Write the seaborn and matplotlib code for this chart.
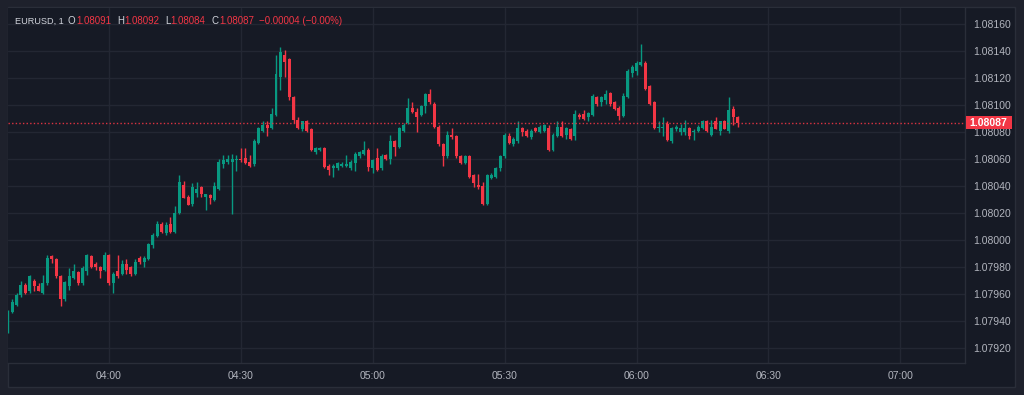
"""EURUSD 1-minute candlestick chart, dark trading-terminal style."""
import numpy as np
import pandas as pd
import seaborn as sns
from matplotlib import pyplot as plt
from matplotlib import transforms
from matplotlib.patches import Rectangle

SYMBOL = "EURUSD, 1"
START = "03:37"

open_ = [
    1.07932, 1.07947, 1.07952, 1.07959, 1.07967, 1.07962, 1.07970, 1.07966, 1.07961, 1.07968,
    1.07988, 1.07986, 1.07973, 1.07956, 1.07966, 1.07972, 1.07976, 1.07968, 1.07977, 1.07988,
    1.07982, 1.07980, 1.07978, 1.07989, 1.07968, 1.07977, 1.07975, 1.07982, 1.07980, 1.07975,
    1.07987, 1.07984, 1.07986, 1.07996, 1.08003, 1.08012, 1.08005, 1.08012, 1.08006, 1.08020,
    1.08041, 1.08032, 1.08027, 1.08035, 1.08039, 1.08032, 1.08033, 1.08030, 1.08038, 1.08056,
    1.08058, 1.08058, 1.08059, 1.08060, 1.08061, 1.08058, 1.08056, 1.08072, 1.08081, 1.08085,
    1.08083, 1.08093, 1.08121, 1.08137, 1.08134, 1.08106, 1.08089, 1.08082, 1.08088, 1.08082,
    1.08065, 1.08067, 1.08068, 1.08055, 1.08053, 1.08053, 1.08055, 1.08055, 1.08053, 1.08057,
    1.08062, 1.08064, 1.08067, 1.08053, 1.08061, 1.08053, 1.08063, 1.08060, 1.08073, 1.08069,
    1.08081, 1.08087, 1.08098, 1.08095, 1.08093, 1.08099, 1.08108, 1.08101, 1.08084, 1.08071,
    1.08062, 1.08078, 1.08077, 1.08062, 1.08057, 1.08062, 1.08048, 1.08041, 1.08040, 1.08027,
    1.08046, 1.08047, 1.08053, 1.08062, 1.08077, 1.08071, 1.08073, 1.08083, 1.08081, 1.08076,
    1.08083, 1.08080, 1.08081, 1.08083, 1.08067, 1.08077, 1.08084, 1.08078, 1.08082, 1.08077,
    1.08093, 1.08093, 1.08091, 1.08093, 1.08106, 1.08102, 1.08104, 1.08109, 1.08102, 1.08098,
    1.08092, 1.08106, 1.08124, 1.08125, 1.08130, 1.08131, 1.08114, 1.08102, 1.08083, 1.08083,
    1.08086, 1.08073, 1.08082, 1.08080, 1.08080, 1.08083, 1.08080, 1.08081, 1.08083, 1.08088,
    1.08078, 1.08088, 1.08081, 1.08088, 1.08081, 1.08097, 1.08091,
]
high = [
    1.07948, 1.07956, 1.07961, 1.07970, 1.07968, 1.07974, 1.07971, 1.07968, 1.07974, 1.07989,
    1.07989, 1.07987, 1.07974, 1.07970, 1.07979, 1.07982, 1.07977, 1.07981, 1.07990, 1.07989,
    1.07984, 1.07981, 1.07991, 1.07990, 1.07976, 1.07989, 1.07985, 1.07986, 1.07981, 1.07986,
    1.07988, 1.07988, 1.07998, 1.08005, 1.08014, 1.08013, 1.08013, 1.08017, 1.08025, 1.08048,
    1.08044, 1.08033, 1.08042, 1.08043, 1.08040, 1.08034, 1.08034, 1.08043, 1.08060, 1.08063,
    1.08063, 1.08064, 1.08063, 1.08068, 1.08068, 1.08063, 1.08075, 1.08084, 1.08088, 1.08088,
    1.08098, 1.08137, 1.08143, 1.08141, 1.08135, 1.08107, 1.08091, 1.08088, 1.08089, 1.08083,
    1.08069, 1.08069, 1.08069, 1.08056, 1.08056, 1.08058, 1.08058, 1.08063, 1.08059, 1.08065,
    1.08066, 1.08073, 1.08068, 1.08060, 1.08068, 1.08064, 1.08064, 1.08078, 1.08074, 1.08084,
    1.08087, 1.08105, 1.08102, 1.08098, 1.08100, 1.08109, 1.08112, 1.08102, 1.08085, 1.08072,
    1.08081, 1.08083, 1.08078, 1.08063, 1.08063, 1.08063, 1.08049, 1.08049, 1.08043, 1.08049,
    1.08050, 1.08054, 1.08063, 1.08079, 1.08079, 1.08076, 1.08088, 1.08084, 1.08082, 1.08082,
    1.08084, 1.08085, 1.08086, 1.08085, 1.08079, 1.08088, 1.08088, 1.08084, 1.08083, 1.08096,
    1.08094, 1.08096, 1.08095, 1.08108, 1.08107, 1.08107, 1.08111, 1.08110, 1.08103, 1.08099,
    1.08109, 1.08127, 1.08130, 1.08133, 1.08145, 1.08133, 1.08115, 1.08103, 1.08088, 1.08091,
    1.08088, 1.08084, 1.08085, 1.08086, 1.08089, 1.08084, 1.08082, 1.08085, 1.08089, 1.08089,
    1.08089, 1.08091, 1.08088, 1.08089, 1.08106, 1.08099, 1.08092,
]
low = [
    1.07931, 1.07946, 1.07951, 1.07958, 1.07960, 1.07961, 1.07962, 1.07962, 1.07960, 1.07967,
    1.07983, 1.07972, 1.07951, 1.07955, 1.07963, 1.07971, 1.07967, 1.07967, 1.07974, 1.07979,
    1.07978, 1.07972, 1.07977, 1.07967, 1.07961, 1.07972, 1.07974, 1.07975, 1.07973, 1.07974,
    1.07982, 1.07980, 1.07985, 1.07994, 1.08002, 1.08005, 1.08004, 1.08005, 1.08005, 1.08019,
    1.08031, 1.08026, 1.08025, 1.08032, 1.08032, 1.08022, 1.08027, 1.08029, 1.08037, 1.08053,
    1.08056, 1.08019, 1.08051, 1.08058, 1.08056, 1.08054, 1.08055, 1.08071, 1.08080, 1.08077,
    1.08082, 1.08092, 1.08111, 1.08121, 1.08104, 1.08087, 1.08082, 1.08081, 1.08080, 1.08066,
    1.08064, 1.08066, 1.08053, 1.08048, 1.08047, 1.08052, 1.08054, 1.08054, 1.08052, 1.08051,
    1.08061, 1.08063, 1.08051, 1.08050, 1.08051, 1.08052, 1.08059, 1.08056, 1.08062, 1.08068,
    1.08080, 1.08086, 1.08094, 1.08080, 1.08092, 1.08094, 1.08101, 1.08083, 1.08070, 1.08055,
    1.08061, 1.08075, 1.08061, 1.08056, 1.08056, 1.08046, 1.08039, 1.08038, 1.08026, 1.08026,
    1.08045, 1.08046, 1.08051, 1.08061, 1.08071, 1.08070, 1.08072, 1.08077, 1.08076, 1.08075,
    1.08080, 1.08079, 1.08080, 1.08066, 1.08066, 1.08076, 1.08076, 1.08075, 1.08074, 1.08074,
    1.08090, 1.08089, 1.08088, 1.08092, 1.08099, 1.08099, 1.08101, 1.08099, 1.08096, 1.08089,
    1.08091, 1.08105, 1.08121, 1.08122, 1.08129, 1.08111, 1.08100, 1.08082, 1.08080, 1.08077,
    1.08073, 1.08072, 1.08081, 1.08078, 1.08078, 1.08075, 1.08074, 1.08080, 1.08082, 1.08080,
    1.08077, 1.08082, 1.08078, 1.08082, 1.08079, 1.08085, 1.08084,
]
close = [
    1.07947, 1.07954, 1.07959, 1.07967, 1.07961, 1.07973, 1.07966, 1.07962, 1.07968, 1.07987,
    1.07986, 1.07973, 1.07956, 1.07969, 1.07973, 1.07977, 1.07968, 1.07979, 1.07989, 1.07980,
    1.07980, 1.07977, 1.07989, 1.07968, 1.07975, 1.07973, 1.07982, 1.07978, 1.07975, 1.07984,
    1.07984, 1.07987, 1.07997, 1.08004, 1.08012, 1.08006, 1.08011, 1.08006, 1.08020, 1.08043,
    1.08031, 1.08026, 1.08039, 1.08038, 1.08034, 1.08034, 1.08031, 1.08040, 1.08058, 1.08059,
    1.08060, 1.08060, 1.08060, 1.08059, 1.08057, 1.08055, 1.08073, 1.08083, 1.08085, 1.08083,
    1.08093, 1.08123, 1.08139, 1.08132, 1.08106, 1.08089, 1.08083, 1.08088, 1.08081, 1.08067,
    1.08068, 1.08068, 1.08054, 1.08052, 1.08055, 1.08057, 1.08056, 1.08056, 1.08058, 1.08064,
    1.08065, 1.08067, 1.08054, 1.08059, 1.08052, 1.08062, 1.08060, 1.08073, 1.08069, 1.08083,
    1.08085, 1.08098, 1.08095, 1.08091, 1.08099, 1.08108, 1.08102, 1.08084, 1.08071, 1.08062,
    1.08078, 1.08076, 1.08062, 1.08057, 1.08062, 1.08047, 1.08042, 1.08039, 1.08027, 1.08048,
    1.08048, 1.08053, 1.08062, 1.08078, 1.08072, 1.08075, 1.08083, 1.08080, 1.08077, 1.08081,
    1.08081, 1.08084, 1.08085, 1.08067, 1.08078, 1.08084, 1.08077, 1.08083, 1.08075, 1.08093,
    1.08091, 1.08090, 1.08094, 1.08107, 1.08101, 1.08106, 1.08108, 1.08101, 1.08097, 1.08092,
    1.08107, 1.08125, 1.08128, 1.08131, 1.08132, 1.08112, 1.08101, 1.08083, 1.08084, 1.08084,
    1.08074, 1.08083, 1.08084, 1.08083, 1.08083, 1.08077, 1.08081, 1.08084, 1.08088, 1.08081,
    1.08084, 1.08082, 1.08088, 1.08082, 1.08096, 1.08091, 1.08087,
]

time_ticks = ["04:00", "04:30", "05:00", "05:30", "06:00", "06:30", "07:00"]
price_ticks = [1.07920, 1.07940, 1.07960, 1.07980, 1.08000, 1.08020, 1.08040,
               1.08060, 1.08080, 1.08100, 1.08120, 1.08140, 1.08160]

OUTER = "#1e212c"
BG = "#161a25"
GRID = "#232733"
EDGE = "#2a2e39"
TEXT = "#b2b5be"
UP = "#089981"
DOWN = "#f23645"

df = pd.DataFrame({"open": open_, "high": high, "low": low, "close": close})
df["minute"] = np.arange(len(df))
df["color"] = np.where(df["close"] >= df["open"], UP, DOWN)
df["bottom"] = df[["open", "close"]].min(axis=1)
df["height"] = (df["close"] - df["open"]).abs().clip(lower=0.000007)


def to_minutes(hhmm):
    h, m = hhmm.split(":")
    return int(h) * 60 + int(m)


tick_pos = [to_minutes(t) - to_minutes(START) for t in time_ticks]

sns.set_theme(style="dark", rc={"axes.facecolor": BG, "figure.facecolor": OUTER})
plt.rcParams["font.family"] = ["Liberation Sans", "DejaVu Sans"]

W, H = 1024, 395
fig = plt.figure(figsize=(W / 100, H / 100), dpi=100, facecolor=OUTER)
fig.patches.append(Rectangle((7.5 / W, 1 - 386.5 / H), 1007.5 / W, 379.2 / H,
                             transform=fig.transFigure, facecolor=BG,
                             edgecolor=EDGE, linewidth=1, zorder=-5))
ax = fig.add_axes([8 / W, 32 / H, 957 / W, 355 / H])
ax.set_zorder(1)
ax.set_facecolor(BG)

ax.vlines(df["minute"], df["low"], df["high"], colors=df["color"], linewidth=1, zorder=3)
ax.bar(df["minute"], df["height"], bottom=df["bottom"], width=0.68,
       color=df["color"], linewidth=0, zorder=4)

last = close[-1]
ax.axhline(last, color=DOWN, linestyle=(0, (1.0, 1.6)), linewidth=1.0, alpha=0.9, zorder=5)

ax.set_xlim(0.05, 217.7)
ax.set_ylim(1.079089, 1.081719)
ax.set_xticks(tick_pos)
ax.set_xticklabels(time_ticks)
ax.set_yticks(price_ticks)
ax.set_yticklabels([f"{p:.5f}" for p in price_ticks])
ax.yaxis.tick_right()
ax.tick_params(axis="y", length=0, pad=6, labelsize=7.5, labelcolor=TEXT)
ax.tick_params(axis="x", length=0, pad=6, labelsize=7.5, labelcolor=TEXT)
ax.grid(True, color=GRID, linewidth=1)
ax.set_axisbelow(True)
for side in ("left", "top"):
    ax.spines[side].set_visible(False)
for side in ("right", "bottom"):
    ax.spines[side].set_color(EDGE)
    ax.spines[side].set_linewidth(1)

# last price tag on the price scale (27 px per 0.0002)
trans = transforms.blended_transform_factory(ax.transAxes, ax.transData)
half = 6.3 / 27 * 0.0002
ax.add_patch(Rectangle((1.0008, last - half), 46 / 957, 2 * half, transform=trans,
                       facecolor=DOWN, edgecolor="none", clip_on=False, zorder=10))
ax.text(1.0008 + 23 / 957, last, f"{last:.5f}", transform=trans, ha="center",
        va="center", color="white", fontsize=7.5, fontweight="bold",
        clip_on=False, zorder=11)

# legend line at the top left
header = [
    (15, SYMBOL, "#d1d4dc", 6.6), (68, "O", "#d1d4dc", 7), (76, f"{open_[-1]:.5f}", DOWN, 7),
    (117, "H", "#d1d4dc", 7), (124, f"{high[-1]:.5f}", DOWN, 7),
    (165, "L", "#d1d4dc", 7), (170.5, f"{low[-1]:.5f}", DOWN, 7),
    (211.5, "C", "#d1d4dc", 7), (219, f"{close[-1]:.5f}", DOWN, 7),
    (259, f"\u2212{abs(close[-1] - open_[-1]):.5f} (\u22120.00%)", DOWN, 7),
]
for x, s, c, fs in header:
    fig.text(x / W, 1 - 21 / H, s, color=c, fontsize=fs, ha="left", va="center")

fig.savefig("out.png", dpi=100, facecolor=OUTER)
